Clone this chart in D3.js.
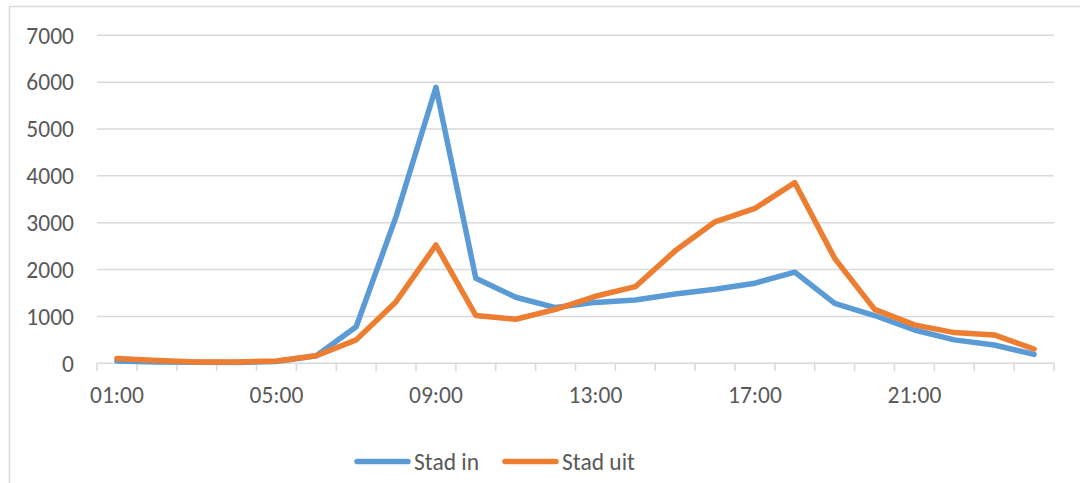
<!DOCTYPE html>
<html>
<head>
<meta charset="utf-8">
<script src="https://cdn.jsdelivr.net/npm/d3@7"></script>
<style>
  html, body { margin: 0; padding: 0; background: #fff; }
  svg { display: block; }
  text { font-family: Carlito, Calibri, Lato, sans-serif; fill: #595959; }
</style>
</head>
<body>
<svg id="chart" width="1080" height="483"></svg>
<script>
const categories = ["01:00","02:00","03:00","04:00","05:00","06:00","07:00","08:00","09:00","10:00","11:00","12:00",
                    "13:00","14:00","15:00","16:00","17:00","18:00","19:00","20:00","21:00","22:00","23:00","24:00"];
const stadIn  = [50, 30, 20, 15, 40, 160, 780, 3130, 5890, 1815, 1410, 1190, 1300, 1350, 1480, 1580, 1710, 1945, 1280, 1020, 710, 500, 390, 190];
const stadUit = [100, 60, 30, 30, 50, 160, 500, 1315, 2525, 1020, 940, 1150, 1430, 1635, 2400, 3020, 3305, 3855, 2240, 1150, 820, 655, 605, 305];
const yTicks = [0, 1000, 2000, 3000, 4000, 5000, 6000, 7000];
const xTickLabels = ["01:00","05:00","09:00","13:00","17:00","21:00"];
const seriesNames = ["Stad in", "Stad uit"];
const seriesColors = ["#5B9BD5", "#ED7D31"];

(function () {
const svg = d3.select("#chart");
const grid = "#d9d9d9";
const fontSize = 23.5;

// chart border
svg.append("rect").attr("x", 9.5).attr("y", 6.5).attr("width", 1100).attr("height", 500)
  .attr("fill", "none").attr("stroke", grid).attr("stroke-width", 1.5);

const pLeft = 97, pRight = 1054, pTop = 35.3, pBottom = 363.3;
const x = d3.scaleBand().domain(categories).range([pLeft, pRight]).padding(0);
const y = d3.scaleLinear().domain([0, 7000]).range([pBottom, pTop]);

// gridlines
svg.append("g").selectAll("line").data(yTicks.filter(d => d > 0)).join("line")
  .attr("x1", pLeft).attr("x2", pRight)
  .attr("y1", d => y(d)).attr("y2", d => y(d))
  .attr("stroke", grid).attr("stroke-width", 1.5);

// y labels
svg.append("g").selectAll("text").data(yTicks).join("text")
  .attr("x", 74).attr("y", d => y(d)).attr("dy", "0.35em")
  .attr("text-anchor", "end").attr("font-size", fontSize)
  .text(d => d);

// x axis line and ticks
svg.append("line").attr("x1", pLeft).attr("x2", pRight).attr("y1", pBottom).attr("y2", pBottom)
  .attr("stroke", grid).attr("stroke-width", 1.5);
const boundaries = categories.map(c => x(c)).concat([x(categories[categories.length - 1]) + x.bandwidth()]);
svg.append("g").selectAll("line").data(boundaries).join("line")
  .attr("x1", d => d).attr("x2", d => d).attr("y1", pBottom).attr("y2", pBottom + 8)
  .attr("stroke", grid).attr("stroke-width", 1.5);

// x labels
svg.append("g").selectAll("text").data(xTickLabels).join("text")
  .attr("x", d => x(d) + x.bandwidth() / 2).attr("y", 395).attr("dy", "0.35em")
  .attr("text-anchor", "middle").attr("font-size", fontSize)
  .text(d => d);

// lines
const line = d3.line().x((d, i) => x(categories[i]) + x.bandwidth() / 2).y(d => y(d));
[stadIn, stadUit].forEach((s, k) => {
  svg.append("path").datum(s).attr("d", line)
    .attr("fill", "none").attr("stroke", seriesColors[k]).attr("stroke-width", 5.5)
    .attr("stroke-linejoin", "round").attr("stroke-linecap", "round");
});

// legend
const legendX = [355, 503];
seriesNames.forEach((n, k) => {
  const g = svg.append("g");
  g.append("line").attr("x1", legendX[k] + 2).attr("x2", legendX[k] + 53).attr("y1", 461.5).attr("y2", 461.5)
    .attr("stroke", seriesColors[k]).attr("stroke-width", 5.5).attr("stroke-linecap", "round");
  g.append("text").attr("x", legendX[k] + 59).attr("y", 461.5).attr("dy", "0.35em")
    .attr("font-size", fontSize).text(n);
});
})();
</script>
</body>
</html>
